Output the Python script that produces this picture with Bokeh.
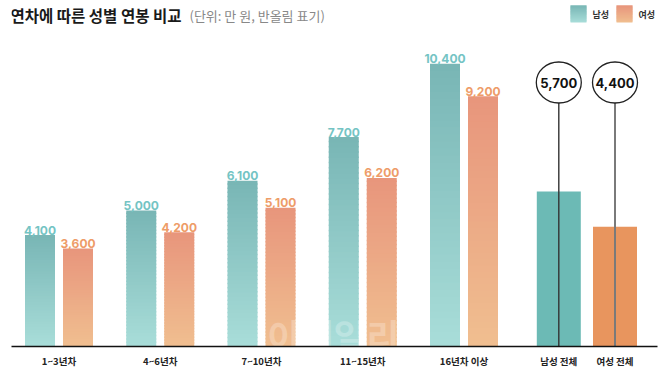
import numpy as np
from bokeh.plotting import figure
from bokeh.models import Range1d, FixedTicker, ColumnDataSource
from bokeh.core.properties import value
from bokeh.embed import file_html
from bokeh.resources import INLINE

# ---- data ----
groups = ["1~3년차", "4~6년차", "7~10년차", "11~15년차", "16년차 이상"]
male = [4100, 5000, 6100, 7700, 10400]
female = [3600, 4200, 5100, 6200, 9200]
total_labels = ["남성 전체", "여성 전체"]
totals = [5700, 4400]
title_text = "연차에 따른 성별 연봉 비교"
subtitle_text = "(단위: 만 원, 반올림 표기)"
legend_labels = ["남성", "여성"]

# ---- layout helpers ----
W, H = 660, 372
BASE = 346                  # baseline in page pixels
K = 12430 / 338             # data units per pixel
YMAX = BASE * K


def py(ref_y):
    return (BASE - ref_y) * K


KR = "Noto Sans CJK KR"
NUM = "Inter"

M_TOP, M_BOT = "#78b6b5", "#a9ddd9"
F_TOP, F_BOT = "#e8957c", "#f0bf90"
M_TOT, F_TOT = "#6cbab5", "#e8955e"
M_LBL, F_LBL = "#74c4c4", "#ee9c68"

gx = [58.5 + 101.25 * i for i in range(len(groups))]
mx = [g - 19 for g in gx]
fx = [g + 19 for g in gx]
tx = [558.3, 614.5]
BW = 30
TW = 44

p = figure(width=W, height=H, output_backend="svg", toolbar_location=None,
           x_range=Range1d(11, 657), y_range=Range1d(0, YMAX),
           min_border_left=11, min_border_right=W - 657, min_border_top=0,
           min_border_bottom=H - BASE, y_axis_location=None)
p.outline_line_color = None
p.xgrid.visible = False
p.ygrid.visible = False
p.background_fill_color = "white"
p.border_fill_color = "white"


def hexrgb(h):
    h = h.lstrip("#")
    return np.array([int(h[i:i + 2], 16) for i in (0, 2, 4)], dtype=float)


def mix(c_bot, c_top, t):
    a, b = hexrgb(c_bot), hexrgb(c_top)
    c = a + (b - a) * t
    return "#%02x%02x%02x" % tuple(int(round(v)) for v in c)


def gradient_quads(xs, vals, width, c_bot, c_top, n=40):
    L, R, B, T, C = [], [], [], [], []
    for x, v in zip(xs, vals):
        for k in range(n):
            L.append(x - width / 2)
            R.append(x + width / 2)
            B.append(v * k / n)
            T.append(min(v, v * (k + 1) / n + 1.5 * K))
            C.append(mix(c_bot, c_top, (k + 0.5) / n))
    return dict(left=L, right=R, bottom=B, top=T, color=C)


p.quad(source=ColumnDataSource(gradient_quads(mx, male, BW, M_BOT, M_TOP)),
       left="left", right="right", bottom="bottom", top="top",
       fill_color="color", line_color=None)
p.quad(source=ColumnDataSource(gradient_quads(fx, female, BW, F_BOT, F_TOP)),
       left="left", right="right", bottom="bottom", top="top",
       fill_color="color", line_color=None)

# totals
p.vbar(x=tx, top=totals, width=TW, bottom=0,
       fill_color=[M_TOT, F_TOT], line_color=None)

# value labels
p.text(x=mx, y=male, text=[f"{v:,}" for v in male], text_align="center",
       text_baseline="alphabetic", y_offset=-5, text_font=value(NUM),
       text_font_style="bold", text_font_size="12px", text_color=M_LBL)
p.text(x=fx, y=female, text=[f"{v:,}" for v in female], text_align="center",
       text_baseline="alphabetic", y_offset=-5, text_font=value(NUM),
       text_font_style="bold", text_font_size="12px", text_color=F_LBL)

# pins + circles for totals
cy = py(82)
p.segment(x0=[tx[0]], y0=[0], x1=[tx[0]], y1=[py(102)], line_color="#333333", line_width=1.4)
p.segment(x0=[tx[1]], y0=[0], x1=[tx[1]], y1=[py(102)], line_color="#7a7a7a", line_width=2)
p.ellipse(x=tx, y=[cy, cy], width=45, height=41, width_units="screen",
          height_units="screen", fill_color="white", line_color="#222222",
          line_width=1.3)
p.text(x=tx, y=[cy, cy], text=[f"{v:,}" for v in totals], text_align="center",
       text_baseline="middle", text_font=value(NUM), text_font_style="bold",
       text_font_size="13px", text_color="#111111")

# watermark
p.text(x=[333], y=[py(334)], text=["이데일리"], text_align="center",
       text_baseline="middle", text_font=value(KR), text_font_style="bold",
       text_font_size="36px", text_color="white", text_alpha=0.25)

# title & subtitle
p.text(x=[10], y=[py(14)], text=[title_text], text_align="left",
       text_baseline="middle", text_font=value(KR), text_font_style="bold",
       text_font_size="15.5px", text_color="#1a1a1a")
p.text(x=[189], y=[py(15)], text=[subtitle_text], text_align="left",
       text_baseline="middle", text_font=value(KR), text_font_style="normal",
       text_font_size="13px", text_color="#888888")

# legend
for (lx, cb, ct, lab) in [(570, M_BOT, M_TOP, legend_labels[0]),
                          (616, F_BOT, F_TOP, legend_labels[1])]:
    n = 16
    y0, y1 = py(22), py(5)
    p.quad(left=[lx] * n, right=[lx + 16] * n,
           bottom=[y0 + (y1 - y0) * k / n for k in range(n)],
           top=[min(y1, y0 + (y1 - y0) * (k + 1) / n + K) for k in range(n)],
           fill_color=[mix(cb, ct, (k + 0.5) / n) for k in range(n)],
           line_color=None)
    p.text(x=[lx + 22], y=[py(14)], text=[lab], text_align="left",
           text_baseline="middle", text_font=value(KR), text_font_style="bold",
           text_font_size="9px", text_color="#333333")

# x axis
ticks = gx + tx
p.xaxis.ticker = FixedTicker(ticks=ticks)
p.xaxis.major_label_overrides = {t: lab for t, lab in zip(ticks, groups + total_labels)}
p.xaxis.axis_line_color = "#111111"
p.xaxis.axis_line_width = 1.5
p.xaxis.major_tick_line_color = None
p.xaxis.minor_tick_line_color = None
p.xaxis.major_tick_out = 0
p.xaxis.major_tick_in = 0
p.xaxis.major_label_standoff = 7
p.xaxis.major_label_text_font = KR
p.xaxis.major_label_text_font_style = "bold"
p.xaxis.major_label_text_font_size = "9.5px"
p.xaxis.major_label_text_color = "#222222"

open("out.html", "w").write(file_html(p, INLINE))
